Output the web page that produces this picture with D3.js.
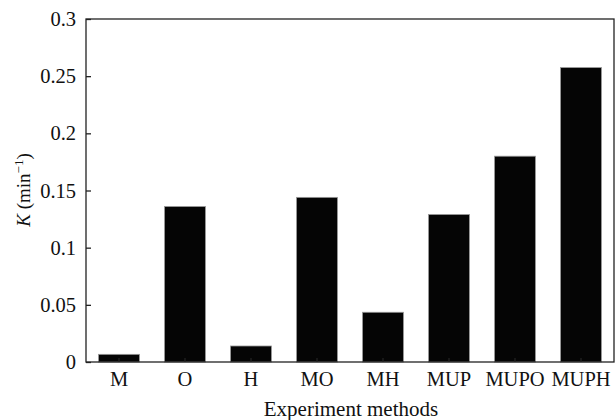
<!DOCTYPE html>
<html lang="en">
<head>
<meta charset="utf-8">
<script src="https://cdn.jsdelivr.net/npm/d3@7"></script>
<style>
  body { margin: 0; background: #fff; }
  text { font-family: "Liberation Serif", "DejaVu Serif", serif; fill: #111; }
</style>
</head>
<body>
<script>
const methods = ["M", "O", "H", "MO", "MH", "MUP", "MUPO", "MUPH"];
const kValues = [0.0067, 0.136, 0.014, 0.144, 0.0435, 0.129, 0.18, 0.2575];
const yTicks = [0, 0.05, 0.1, 0.15, 0.2, 0.25, 0.3];

const w = 615, h = 420;
const m = { left: 86, right: 1, top: 19, bottom: 58 };
const fs = 20.5;

const svg = d3.select("body").append("svg")
  .attr("width", w).attr("height", h);

const x = d3.scaleBand()
  .domain(methods)
  .range([m.left, w - m.right])
  .paddingInner(0.38).paddingOuter(0.19);

const y = d3.scaleLinear()
  .domain([0, 0.3])
  .range([h - m.bottom, m.top]);

// bars
svg.selectAll("rect.bar")
  .data(methods)
  .enter().append("rect")
  .attr("class", "bar")
  .attr("x", d => x(d))
  .attr("width", x.bandwidth())
  .attr("y", (d, i) => y(kValues[i]))
  .attr("height", (d, i) => y(0) - y(kValues[i]))
  .attr("fill", "#050505")
  .attr("stroke", "#999")
  .attr("stroke-width", 0.8);

// frame
svg.append("rect")
  .attr("x", m.left).attr("y", m.top)
  .attr("width", w - m.right - m.left)
  .attr("height", h - m.bottom - m.top)
  .attr("fill", "none")
  .attr("stroke", "#222")
  .attr("stroke-width", 1.3);

// y axis (ticks inward)
const yAxis = svg.append("g")
  .attr("transform", `translate(${m.left},0)`)
  .call(d3.axisLeft(y).tickValues(yTicks).tickSizeInner(-5).tickSizeOuter(0)
    .tickFormat(d => d3.format("")(+d.toFixed(2))));
yAxis.attr("font-size", null).attr("font-family", null);
yAxis.select(".domain").remove();
yAxis.selectAll("line").attr("stroke", "#222").attr("stroke-width", 1.3);
yAxis.selectAll("text").attr("x", -10).style("font-size", fs + "px");

// x axis (ticks inward)
const xAxis = svg.append("g")
  .attr("transform", `translate(0,${h - m.bottom})`)
  .call(d3.axisBottom(x).tickSizeInner(-4).tickSizeOuter(0));
xAxis.attr("font-size", null).attr("font-family", null);
xAxis.select(".domain").remove();
xAxis.selectAll("line").attr("stroke", "#222").attr("stroke-width", 1.3);
xAxis.selectAll("text").attr("y", 9).style("font-size", fs + "px");

// axis titles
svg.append("text")
  .attr("x", 351)
  .attr("y", 416)
  .attr("text-anchor", "middle")
  .style("font-size", "21px")
  .text("Experiment methods");

const yl = svg.append("text")
  .attr("transform", `translate(30,190) rotate(-90)`)
  .attr("text-anchor", "middle")
  .style("font-size", "19px");
yl.append("tspan").attr("font-style", "italic").text("K");
yl.append("tspan").text(" (min");
yl.append("tspan").style("font-size", "13px").attr("dy", -7).text("\u22121");
yl.append("tspan").attr("dy", 7).text(")");
</script>
</body>
</html>
